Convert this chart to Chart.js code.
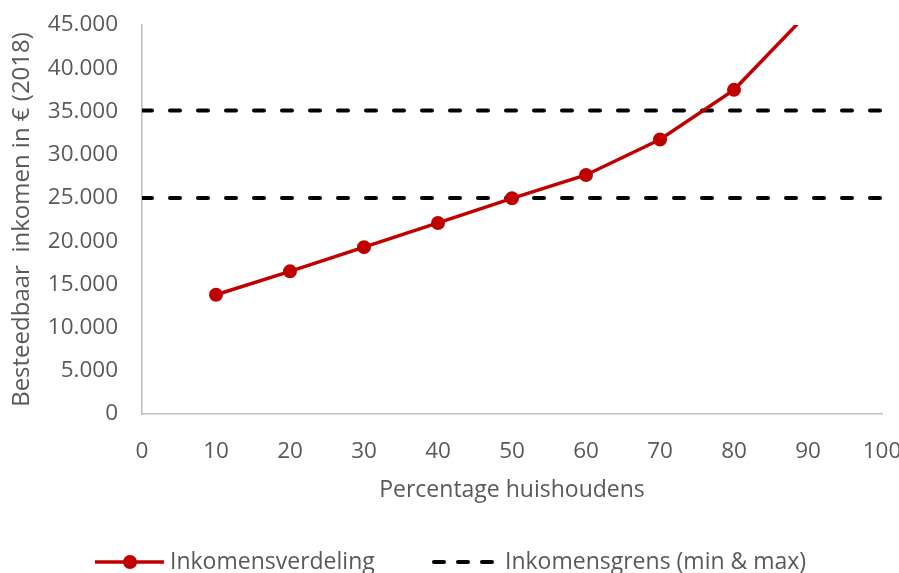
<!DOCTYPE html>
<html>
<head>
<meta charset="utf-8">
<script src="https://cdn.jsdelivr.net/npm/chart.js@4/dist/chart.umd.min.js"></script>
<style>
  html, body { margin: 0; padding: 0; background: #fff; }
  #wrap { width: 899px; height: 573px; }
</style>
</head>
<body>
<div id="wrap"><canvas id="chart"></canvas></div>
<script>
// data
var percentages = [10, 20, 30, 40, 50, 60, 70, 80, 90];
var inkomen = [13800, 16500, 19300, 22100, 24950, 27650, 31750, 37500, 46400];
var grensMin = 25000;
var grensMax = 35100;
var xRange = [0, 100];
var serieNames = ["Inkomensverdeling", "Inkomensgrens (min & max)"];

var red = "#C00000";
var grey = "#595959";
var fontName = "'Open Sans', 'DejaVu Sans', sans-serif";
var fontSize = 22.5;

function formatNl(v) {
    return String(v).replace(/\B(?=(\d{3})+(?!\d))/g, ".");
}

var lineData = [];
for (var i = 0; i < percentages.length; i++) {
    lineData.push({x: percentages[i], y: inkomen[i]});
}

// legend drawn by hand so the line symbols look like the original
var legendPlugin = {
    id: "handLegend",
    afterDraw: function (chart) {
        var ctx = chart.ctx;
        var y = 562;
        ctx.save();
        ctx.font = "23px " + fontName;
        ctx.textBaseline = "middle";

        ctx.strokeStyle = red;
        ctx.lineWidth = 3.5;
        ctx.beginPath();
        ctx.moveTo(95, y);
        ctx.lineTo(164, y);
        ctx.stroke();
        ctx.fillStyle = red;
        ctx.beginPath();
        ctx.arc(130, y, 7, 0, Math.PI * 2);
        ctx.fill();
        ctx.fillStyle = grey;
        ctx.fillText(serieNames[0], 170, y);

        ctx.strokeStyle = "#000";
        ctx.lineWidth = 4;
        ctx.lineCap = "round";
        ctx.setLineDash([10, 14]);
        ctx.beginPath();
        ctx.moveTo(434, y);
        ctx.lineTo(500, y);
        ctx.stroke();
        ctx.setLineDash([]);
        ctx.fillText(serieNames[1], 505, y);
        ctx.restore();
    }
};

var ctx = document.getElementById("chart").getContext("2d");
var chart = new Chart(ctx, {
    type: "line",
    data: {
        datasets: [
            {
                label: serieNames[0],
                data: lineData,
                borderColor: red,
                backgroundColor: red,
                borderWidth: 3.5,
                pointRadius: 6,
                pointBorderWidth: 2,
                pointBorderColor: red,
                pointBackgroundColor: red,
                tension: 0
            },
            {
                label: serieNames[1],
                data: [{x: xRange[0], y: grensMin}, {x: xRange[1], y: grensMin}],
                borderColor: "#000",
                borderWidth: 4,
                borderDash: [10, 18],
                borderCapStyle: "round",
                pointRadius: 0
            },
            {
                label: serieNames[1] + " max",
                data: [{x: xRange[0], y: grensMax}, {x: xRange[1], y: grensMax}],
                borderColor: "#000",
                borderWidth: 4,
                borderDash: [10, 18],
                borderCapStyle: "round",
                pointRadius: 0
            }
        ]
    },
    options: {
        responsive: true,
        maintainAspectRatio: false,
        animation: false,
        layout: {
            padding: {top: 25, right: 17, bottom: 62, left: 0}
        },
        plugins: {
            legend: {display: false},
            tooltip: {enabled: false}
        },
        scales: {
            x: {
                type: "linear",
                min: xRange[0],
                max: xRange[1],
                ticks: {
                    stepSize: 10,
                    color: grey,
                    padding: 24,
                    font: {family: fontName, size: fontSize}
                },
                grid: {display: true, drawOnChartArea: false, drawTicks: false},
                border: {color: "#BFBFBF", width: 1.5},
                title: {
                    display: true,
                    text: "Percentage huishoudens",
                    color: grey,
                    padding: {top: 0, bottom: 7},
                    font: {family: fontName, size: 23}
                },
                afterFit: function (scale) {
                    scale.height = 97;
                    scale.paddingLeft = 0;
                    scale.paddingRight = 0;
                }
            },
            y: {
                min: 0,
                max: 45000,
                ticks: {
                    stepSize: 5000,
                    color: grey,
                    padding: 24,
                    font: {family: fontName, size: fontSize},
                    callback: function (v) { return formatNl(v); }
                },
                grid: {display: true, drawOnChartArea: false, drawTicks: false},
                border: {color: "#BFBFBF", width: 1.5},
                title: {
                    display: true,
                    text: "Besteedbaar  inkomen in € (2018)",
                    color: grey,
                    padding: {top: 8, bottom: 0},
                    font: {family: fontName, size: 24}
                },
                afterFit: function (scale) {
                    scale.width = 142;
                    scale.paddingTop = 0;
                    scale.paddingBottom = 0;
                }
            }
        }
    },
    plugins: [legendPlugin]
});
</script>
</body>
</html>
